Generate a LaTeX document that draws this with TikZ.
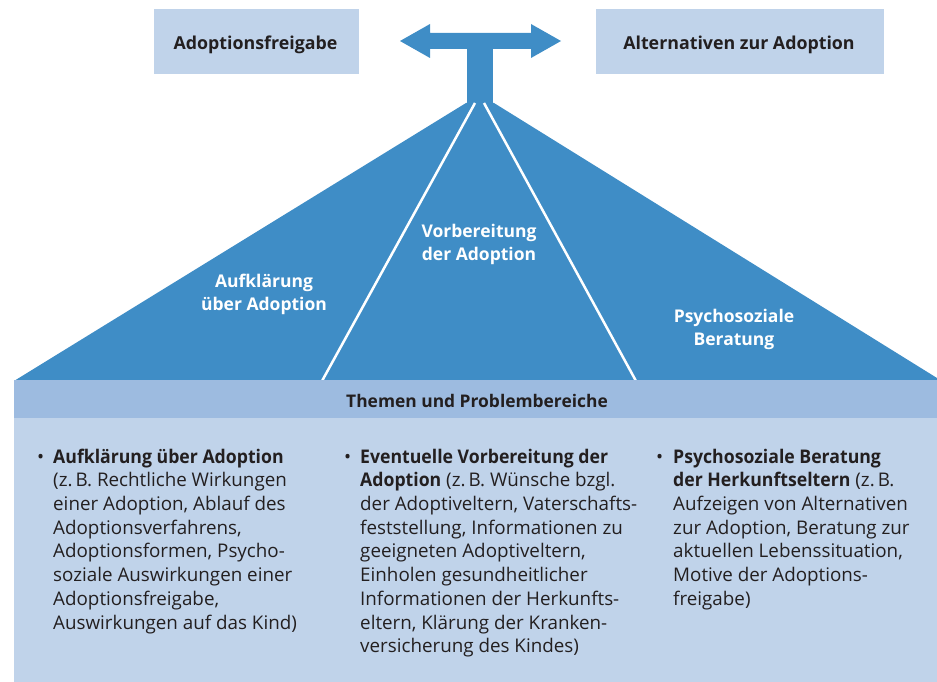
\documentclass[tikz,border=0pt]{standalone}
\usepackage{fontspec}
\setmainfont{Open Sans}
\newfontfamily\bodyfont{Open Sans}[BoldFeatures={FakeStretch=0.94}]
\definecolor{tblue}{HTML}{3F8DC6}
\definecolor{band}{HTML}{9DBBE0}
\definecolor{pale}{HTML}{C0D3EA}
\definecolor{ink}{HTML}{231F20}
\tikzset{
  topbox/.style={anchor=base, inner sep=0pt, text=ink, font=\bfseries\fontsize{17.8}{21}\selectfont},
  tritext/.style={anchor=north, inner sep=0pt, text=white, font=\bfseries\fontsize{17.5}{23.5}\selectfont, align=center},
  bodytext/.style={anchor=north west, align=left, text=ink, inner sep=0pt, font=\bodyfont\fontsize{18.8}{23.7}\selectfont},
  bullet/.style={anchor=base west, text=ink, inner sep=0pt, font=\bodyfont\fontsize{18.8}{23.7}\selectfont}
}
\begin{document}
\begin{tikzpicture}[x=1pt,y=-1pt]
\useasboundingbox (0,0) rectangle (937,682);
% top boxes
\fill[pale] (154,9) rectangle (359,74);
\node[topbox] (frei) at (255.5,50) {Adoptionsfreigabe};
\fill[pale] (596,9) rectangle (884,74);
\node[topbox] (alt) at (739,50) {Alternativen zur Adoption};
% arrow and stem
\fill[tblue] (400,41) -- (430,24) -- (430,33) -- (531,33) -- (531,24) -- (561,41) -- (531,58) -- (531,49) -- (430,49) -- (430,58) -- cycle;
\fill[tblue] (467,41) rectangle (493,104);
% triangle
\fill[tblue] (466,103) -- (494,103) -- (937,378) -- (937,381) -- (14,381) -- cycle;
\coordinate (lt) at (475,103);
\coordinate (lb) at (322,381);
\coordinate (rt) at (484,103);
\coordinate (rb) at (636,381);
\draw[white, line width=2.5pt] (lt) -- (lb);
\draw[white, line width=2.5pt] (rt) -- (rb);
\node[tritext] (t1) at (264,270.5) {\strut Aufklärung\\über Adoption};
\node[tritext] (t2) at (479,220.5) {\strut Vorbereitung\\der Adoption};
\node[tritext] (t3) at (734,305.5) {\strut Psychosoziale\\Beratung};
% band
\fill[band] (14,380) rectangle (937,418);
\node[topbox, font=\bfseries\fontsize{17.4}{21}\selectfont] (band) at (477,407) {Themen und Problembereiche};
\fill[pale] (14,418) rectangle (937,682);
% columns
\node[bullet] (b1) at (37,463) {•};
\node[bodytext] (c1) at (53,446.4) {\strut\textbf{Aufklärung über Adoption}\\(z.\,B. Rechtliche Wirkungen\\einer Adoption, Ablauf des\\Adoptionsverfahrens,\\Adoptionsformen, Psycho-\\soziale Auswirkungen einer\\Adoptionsfreigabe,\\Auswirkungen auf das Kind)};
\node[bullet] (b2) at (344,463) {•};
\node[bodytext] (c2) at (360,446.4) {\strut\textbf{Eventuelle Vorbereitung der}\\\textbf{Adoption} (z.\,B. Wünsche bzgl.\\der Adoptiveltern, Vaterschafts-\\feststellung, Informationen zu\\geeigneten Adoptiveltern,\\Einholen gesundheitlicher\\Informationen der Herkunfts-\\eltern, Klärung der Kranken-\\versicherung des Kindes)};
\node[bullet] (b3) at (656,463) {•};
\node[bodytext] (c3) at (673,446.4) {\strut\textbf{Psychosoziale Beratung}\\\textbf{der Herkunftseltern} (z.\,B.\\Aufzeigen von Alternativen\\zur Adoption, Beratung zur\\aktuellen Lebenssituation,\\Motive der Adoptions-\\freigabe)};
\end{tikzpicture}
\end{document}
